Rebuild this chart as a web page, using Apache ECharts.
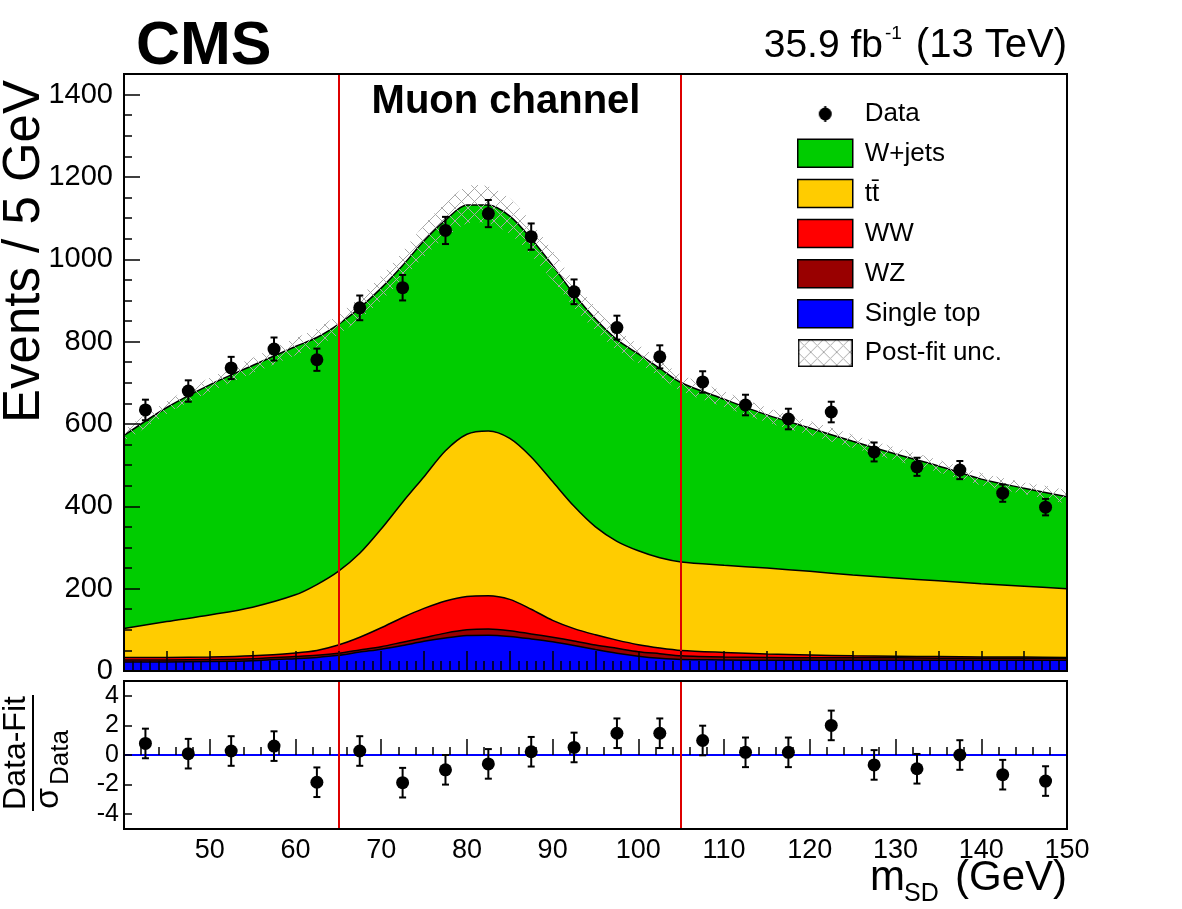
<!DOCTYPE html>
<html>
<head>
<meta charset="utf-8">
<script src="https://cdn.jsdelivr.net/npm/echarts@6/dist/echarts.min.js"></script>
<style>
  html, body { margin: 0; padding: 0; background: #fff; }
  #chart { width: 1182px; height: 909px; }
</style>
</head>
<body>
<div id="chart"></div>
<script>
// post-fit shapes, sampled along m_SD (GeV)
const massPts   = [40, 45, 50, 55, 60, 62.5, 65, 67.5, 70, 72.5, 75, 77.5, 80, 82.5, 85, 87.5, 90, 92.5, 95, 97.5, 100, 102.5, 105, 110, 115, 120, 125, 130, 135, 140, 145, 150];
const singleTop = [22, 22, 23, 25, 30, 33, 38, 46, 53, 62, 72, 80, 86, 87, 84, 78, 71, 62, 52, 43, 36, 31, 28, 27, 26, 26, 26, 26, 26, 26, 26, 26];
const wz        = [5, 5, 5, 5, 5, 5, 5, 5, 6, 8, 9, 12, 14, 15, 14, 12, 11, 11, 11, 12, 11, 11, 9, 7, 7, 6, 6, 6, 5, 5, 5, 5];
const ww        = [6, 6, 6, 7, 9, 12, 20, 31, 46, 60, 71, 78, 81, 81, 76, 60, 41, 30, 25, 20, 17, 14, 13, 11, 8, 7, 5, 4, 4, 3, 3, 2];
const ttbar     = [70, 87, 102, 118, 141, 160, 179, 204, 240, 280, 320, 365, 394, 400, 391, 370, 337, 297, 262, 240, 228, 219, 215, 212, 209, 203, 196, 190, 184, 178, 172, 167];
const wjets     = [469, 520, 559, 587, 603, 600, 600, 596, 585, 575, 573, 560, 557, 549, 540, 530, 525, 515, 505, 490, 478, 460, 435, 403, 372, 348, 325, 301, 279, 254, 238, 223];
const postFitUnc = [12, 15, 17, 19, 21, 22, 24, 27, 30, 34, 38, 42, 45, 45, 43, 40, 36, 32, 28, 25, 23, 21, 20, 19, 18, 17, 16, 16, 15, 15, 14, 14];

// data in 5 GeV bins
const binCenters = [42.5, 47.5, 52.5, 57.5, 62.5, 67.5, 72.5, 77.5, 82.5, 87.5, 92.5, 97.5, 102.5, 107.5, 112.5, 117.5, 122.5, 127.5, 132.5, 137.5, 142.5, 147.5];
const dataEvents = [634, 680, 736, 782, 756, 882, 931, 1070, 1111, 1055, 921, 834, 763, 702, 646, 612, 629, 532, 496, 488, 432, 398];
const dataErr    = [25, 26, 27, 28, 27, 30, 31, 33, 33, 32, 30, 29, 28, 26, 25, 25, 25, 23, 22, 22, 21, 20];
const pulls      = [0.78, 0.09, 0.27, 0.6, -1.84, 0.27, -1.87, -1.0, -0.6, 0.22, 0.51, 1.47, 1.47, 0.98, 0.18, 0.18, 2.0, -0.67, -0.93, 0.0, -1.33, -1.76];
const pullErr = 1;

const yTicks = [0, 200, 400, 600, 800, 1000, 1200, 1400];
const pullTicks = [-4, -2, 0, 2, 4];

const FONT = 'Liberation Sans';

// cumulative stack tops, bottom component first
const cumST = singleTop.slice();
const cumWZ = cumST.map((v, i) => v + wz[i]);
const cumWW = cumWZ.map((v, i) => v + ww[i]);
const cumTT = cumWW.map((v, i) => v + ttbar[i]);
const total = cumTT.map((v, i) => v + wjets[i]);
const pairs = arr => massPts.map((x, i) => [x, arr[i]]);

function hatchCanvas() {
  const c = document.createElement('canvas');
  c.width = 13; c.height = 13;
  const g = c.getContext('2d');
  g.strokeStyle = '#a8a8a8';
  g.lineWidth = 1;
  g.beginPath();
  g.moveTo(0, 0); g.lineTo(13, 13);
  g.moveTo(13, 0); g.lineTo(0, 13);
  g.stroke();
  return c;
}
const hatch = hatchCanvas();

function uncIcon() {
  const c = document.createElement('canvas');
  c.width = 55; c.height = 28;
  const g = c.getContext('2d');
  g.fillStyle = g.createPattern(hatch, 'repeat');
  g.fillRect(0, 0, 55, 28);
  g.strokeStyle = '#000'; g.lineWidth = 1.5;
  g.strokeRect(0.75, 0.75, 53.5, 26.5);
  return c.toDataURL();
}
function dataIcon() {
  const c = document.createElement('canvas');
  c.width = 55; c.height = 28;
  const g = c.getContext('2d');
  g.strokeStyle = '#000'; g.lineWidth = 2;
  g.beginPath(); g.moveTo(27.5, 6); g.lineTo(27.5, 22); g.stroke();
  g.fillStyle = '#000';
  g.beginPath(); g.arc(27.5, 14, 6.5, 0, Math.PI * 2); g.fill();
  return c.toDataURL();
}

function errorBars(params, api) {
  const x = api.value(0), y = api.value(1), e = api.value(2);
  const lo = api.coord([x, y - e]);
  const hi = api.coord([x, y + e]);
  const cap = 3.5;
  const st = { stroke: '#000', lineWidth: 2 };
  return {
    type: 'group',
    children: [
      { type: 'line', shape: { x1: lo[0], y1: lo[1], x2: hi[0], y2: hi[1] }, style: st },
      { type: 'line', shape: { x1: lo[0] - cap, y1: lo[1], x2: lo[0] + cap, y2: lo[1] }, style: st },
      { type: 'line', shape: { x1: hi[0] - cap, y1: hi[1], x2: hi[0] + cap, y2: hi[1] }, style: st }
    ]
  };
}

// hatched band: total +- post-fit uncertainty
function uncBand(params, api) {
  const up = massPts.map((x, i) => api.coord([x, total[i] + postFitUnc[i]]));
  const lo = massPts.map((x, i) => api.coord([x, total[i] - postFitUnc[i]])).reverse();
  return {
    type: 'polygon',
    shape: { points: up.concat(lo), smooth: 0.3 },
    style: { fill: { image: hatch, repeat: 'repeat' }, stroke: null }
  };
}

function areaSeries(name, values, color) {
  return {
    name: name,
    type: 'line',
    xAxisIndex: 0, yAxisIndex: 0,
    data: pairs(values),
    smooth: 0.3,
    symbol: 'none',
    color: color,
    lineStyle: { color: '#000', width: 1.5 },
    areaStyle: { color: color, opacity: 1 },
    z: 2
  };
}

const chart = echarts.init(document.getElementById('chart'), null, { renderer: 'canvas' });

const option = {
  animation: false,
  backgroundColor: '#fff',
  textStyle: { fontFamily: FONT, color: '#000' },
  grid: [
    { left: 124, top: 74, width: 943, height: 597, show: true, borderColor: '#000', borderWidth: 2, backgroundColor: 'transparent', z: 10 },
    { left: 124, top: 681, width: 943, height: 148, show: true, borderColor: '#000', borderWidth: 2, backgroundColor: 'transparent', z: 10 }
  ],
  xAxis: [
    {
      gridIndex: 0, type: 'value', min: 40, max: 150, interval: 5, z: 10,
      axisLine: { show: false },
      axisLabel: { show: false },
      axisTick: { inside: true, length: 20, lineStyle: { color: '#000', width: 1.5 } },
      minorTick: { show: true, splitNumber: 5, length: 10, lineStyle: { color: '#000', width: 1.5 } },
      splitLine: { show: false }
    },
    {
      gridIndex: 1, type: 'value', min: 40, max: 150, interval: 10, z: 10,
      axisLine: { show: false },
      axisLabel: { fontSize: 27, color: '#000', margin: 8, showMinLabel: false, fontFamily: FONT, formatter: v => String(v) },
      axisTick: { inside: true, length: 16, lineStyle: { color: '#000', width: 1.5 } },
      minorTick: { show: true, splitNumber: 5, length: 8, lineStyle: { color: '#000', width: 1.5 } },
      splitLine: { show: false }
    }
  ],
  yAxis: [
    {
      gridIndex: 0, type: 'value', min: 0, max: 1450, position: 'left', z: 10,
      axisLine: { show: false },
      axisLabel: { customValues: yTicks, fontSize: 29, color: '#000', margin: 11, fontFamily: FONT, formatter: v => String(v) },
      axisTick: { customValues: yTicks, inside: true, length: 16, lineStyle: { color: '#000', width: 1.5 } },
      splitLine: { show: false }
    },
    {
      gridIndex: 0, type: 'value', min: 0, max: 1450, interval: 50, position: 'left', offset: 0, z: 10,
      axisLine: { show: false },
      axisLabel: { show: false },
      axisTick: { inside: true, length: 8, lineStyle: { color: '#000', width: 1.5 } },
      splitLine: { show: false }
    },
    {
      gridIndex: 1, type: 'value', min: -5, max: 5, position: 'left', z: 10,
      axisLine: { show: false },
      axisLabel: { customValues: pullTicks, fontSize: 25, color: '#000', margin: 5, fontFamily: FONT, formatter: v => String(v) },
      axisTick: { customValues: pullTicks, inside: true, length: 8, lineStyle: { color: '#000', width: 1.5 } },
      splitLine: { show: false }
    }
  ],
  legend: {
    orient: 'vertical',
    left: 797, top: 100, padding: 0,
    itemWidth: 55, itemHeight: 28, itemGap: 10.6,
    selectedMode: false,
    textStyle: { fontSize: 26, color: '#000', fontFamily: FONT, lineHeight: 28, padding: [0, 0, 0, 7] },
    data: [
      { name: 'Data', icon: 'image://' + dataIcon() },
      { name: 'W+jets', icon: 'rect', itemStyle: { color: '#00cc00', borderColor: '#000', borderWidth: 1.5 } },
      { name: 'tt\u0304', icon: 'rect', itemStyle: { color: '#ffcc00', borderColor: '#000', borderWidth: 1.5 } },
      { name: 'WW', icon: 'rect', itemStyle: { color: '#ff0000', borderColor: '#000', borderWidth: 1.5 } },
      { name: 'WZ', icon: 'rect', itemStyle: { color: '#990000', borderColor: '#000', borderWidth: 1.5 } },
      { name: 'Single top', icon: 'rect', itemStyle: { color: '#0000ff', borderColor: '#000', borderWidth: 1.5 } },
      { name: 'Post-fit unc.', icon: 'image://' + uncIcon() }
    ]
  },
  graphic: [
    { type: 'text', x: 136, y: 47, style: { text: 'CMS', font: 'bold 61px ' + FONT, fill: '#000', align: 'left', verticalAlign: 'middle' } },
    { type: 'text', x: 506, y: 102, style: { text: 'Muon channel', font: 'bold 40px ' + FONT, fill: '#000', align: 'center', verticalAlign: 'middle' } },
    { type: 'text', x: 883, y: 46, style: { text: '35.9 fb', font: '39px ' + FONT, fill: '#000', align: 'right', verticalAlign: 'middle' } },
    { type: 'text', x: 885, y: 34, style: { text: '-1', font: '19px ' + FONT, fill: '#000', align: 'left', verticalAlign: 'middle' } },
    { type: 'text', x: 1067, y: 46, style: { text: '(13 TeV)', font: '40px ' + FONT, fill: '#000', align: 'right', verticalAlign: 'middle' } },
    { type: 'text', x: 25, y: 80, rotation: Math.PI / 2, style: { text: 'Events / 5 GeV', font: '51px ' + FONT, fill: '#000', align: 'right', verticalAlign: 'middle' } },
    { type: 'text', x: 870, y: 878, style: { text: 'm', font: '42px ' + FONT, fill: '#000', align: 'left', verticalAlign: 'middle' } },
    { type: 'text', x: 904, y: 894, style: { text: 'SD', font: '25px ' + FONT, fill: '#000', align: 'left', verticalAlign: 'middle' } },
    { type: 'text', x: 1067, y: 878, style: { text: '(GeV)', font: '42px ' + FONT, fill: '#000', align: 'right', verticalAlign: 'middle' } },
    {
      type: 'group', x: 33, y: 753, rotation: Math.PI / 2,
      children: [
        { type: 'text', x: 0, y: -17, style: { text: 'Data-Fit', font: '32px ' + FONT, fill: '#000', align: 'center', verticalAlign: 'middle' } },
        { type: 'line', shape: { x1: -58, y1: 0, x2: 58, y2: 0 }, style: { stroke: '#000', lineWidth: 2 } },
        { type: 'text', x: -56, y: 16, style: { text: '\u03c3', font: '34px ' + FONT, fill: '#000', align: 'left', verticalAlign: 'middle' } },
        { type: 'text', x: -32, y: 28, style: { text: 'Data', font: '26px ' + FONT, fill: '#000', align: 'left', verticalAlign: 'middle' } }
      ]
    }
  ],
  series: [
    areaSeries('W+jets', total, '#00cc00'),
    areaSeries('tt\u0304', cumTT, '#ffcc00'),
    areaSeries('WW', cumWW, '#ff0000'),
    areaSeries('WZ', cumWZ, '#990000'),
    areaSeries('Single top', cumST, '#0000ff'),
    {
      name: 'Post-fit unc.', type: 'custom', xAxisIndex: 0, yAxisIndex: 0,
      renderItem: uncBand, encode: { x: 0, y: 1 },
      data: [[40, 0]], clip: true, z: 3
    },
    {
      name: 'Data errors', type: 'custom', xAxisIndex: 0, yAxisIndex: 0,
      renderItem: errorBars, encode: { x: 0, y: 1 },
      data: binCenters.map((x, i) => [x, dataEvents[i], dataErr[i]]), z: 5
    },
    {
      name: 'Data', type: 'scatter', xAxisIndex: 0, yAxisIndex: 0,
      data: binCenters.map((x, i) => [x, dataEvents[i]]),
      symbol: 'circle', symbolSize: 13, itemStyle: { color: '#000', opacity: 1 }, z: 6,
      markLine: {
        silent: true,
        symbol: ['none', 'none'],
        label: { show: false },
        lineStyle: { color: '#dd0000', width: 2, type: 'solid' },
        data: [{ xAxis: 65 }, { xAxis: 105 }]
      }
    },
    {
      name: 'Pull errors', type: 'custom', xAxisIndex: 1, yAxisIndex: 2,
      renderItem: errorBars, encode: { x: 0, y: 1 },
      data: binCenters.map((x, i) => [x, pulls[i], pullErr]), z: 5
    },
    {
      name: 'Pulls', type: 'scatter', xAxisIndex: 1, yAxisIndex: 2,
      data: binCenters.map((x, i) => [x, pulls[i]]),
      symbol: 'circle', symbolSize: 13, itemStyle: { color: '#000', opacity: 1 }, z: 6,
      markLine: {
        silent: true,
        symbol: ['none', 'none'],
        label: { show: false },
        lineStyle: { color: '#dd0000', width: 2, type: 'solid' },
        data: [
          { yAxis: 0, lineStyle: { color: '#0000ff', width: 2, type: 'solid' } },
          { xAxis: 65 }, { xAxis: 105 }
        ]
      }
    }
  ]
};

chart.setOption(option);
</script>
</body>
</html>
